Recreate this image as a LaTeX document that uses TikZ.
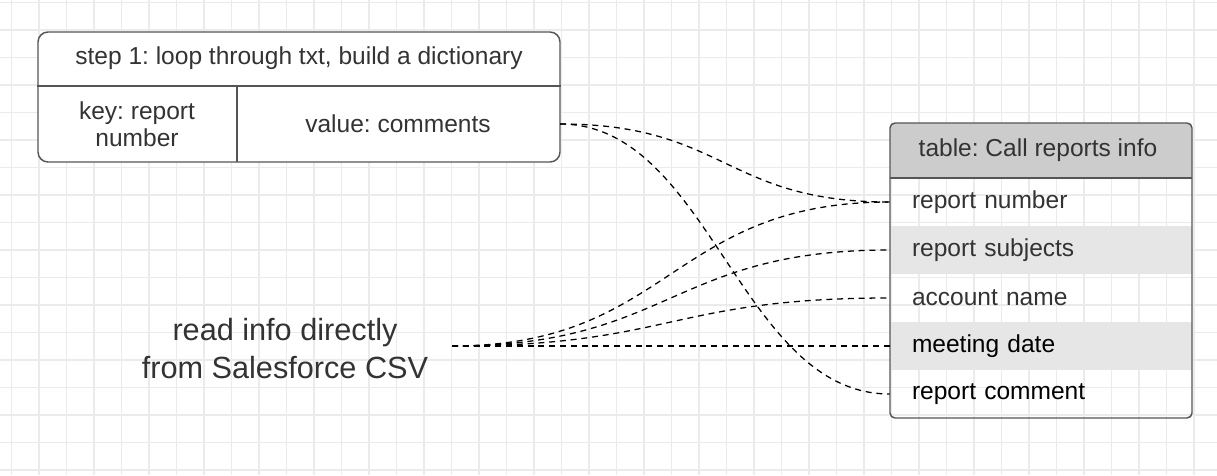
\documentclass[tikz,border=0pt]{standalone}
\usepackage{fontspec}
\setmainfont{Liberation Sans}
\frenchspacing
\definecolor{gridcol}{HTML}{EBEBEB}
\definecolor{boxcol}{HTML}{555555}
\definecolor{txtcol}{HTML}{333333}
\definecolor{hdrcol}{HTML}{CCCCCC}
\definecolor{rowcol}{HTML}{E6E6E6}
\begin{document}
\begin{tikzpicture}[x=0.75pt,y=-0.75pt,
  gridline/.style={draw=gridcol,line width=1.1pt},
  frame/.style={draw=boxcol,line width=1.1pt},
  small/.style={font=\fontsize{18.4pt}{20.5pt}\selectfont,text=txtcol,inner sep=0pt},
  big/.style={font=\fontsize{23pt}{28.5pt}\selectfont,text=txtcol,inner sep=0pt,align=center},
  rowbox/.style={minimum width=226.5pt,minimum height=36pt,text width=193.5pt,inner xsep=16.5pt,
    inner ysep=0pt,align=left,font=\fontsize{18.4pt}{20.5pt}\selectfont,text=txtcol},
  link/.style={draw=black,line width=0.95pt,dash pattern=on 4.5pt off 3.6pt}]
\useasboundingbox (0,0) rectangle (1217,475);
\fill[white] (0,0) rectangle (1217,475);
\foreach \i in {0,...,43} \draw[gridline] (11.5+27.5*\i,0) -- (11.5+27.5*\i,475);
\foreach \j in {0,...,17} \draw[gridline] (0,2.5+27.5*\j) -- (1217,2.5+27.5*\j);
\node[frame,fill=white,rounded corners=7.5pt,minimum width=391.5pt,minimum height=97.5pt] (dict) at (299,97) {};
\draw[frame] (dict.west |- 0,86) -- (dict.east |- 0,86);
\draw[frame] (237,86) -- (237,162);
\node[small] (step) at (299,58) {step 1: loop through txt, build a dictionary};
\node[small,align=center] (key) at (137,124) {key: report\\number};
\node[small] (value) at (398,124) {value: comments};
\coordinate (vout) at (560,124);
\fill[hdrcol] (890,178) [rounded corners=3.75pt] -- (890,123) -- (1192,123) [sharp corners] -- (1192,178) -- cycle;
\node[small] (table) at (1038,150) {table: Call reports info};
\node[rowbox] (r1) at (1041,202) {report number};
\node[rowbox,fill=rowcol] (r2) at (1041,250) {report subjects};
\node[rowbox] (r3) at (1041,298) {account name};
\node[rowbox,fill=rowcol,text=black] (r4) at (1041,346) {meeting date};
\node[rowbox,text=black] (r5) at (1041,394) {report comment};
\draw[frame] (890,178) -- (1192,178);
\draw[frame,rounded corners=3.75pt] (890,123) rectangle (1192,418);
\node[big] (csv) at (285,349) {read info directly\\from Salesforce CSV};
\coordinate (src) at (452,346);
\draw[link] (vout) .. controls +(165,0) and +(-165,0) .. (r1.west);
\draw[link] (vout) .. controls +(150,0) and +(-150,0) .. (r5.west);
\draw[link] (src) .. controls +(219,0) and +(-219,0) .. (r1.west);
\draw[link] (src) .. controls +(219,0) and +(-219,0) .. (r2.west);
\draw[link] (src) .. controls +(219,0) and +(-219,0) .. (r3.west);
\draw[link] (src) -- (r4.west);
\end{tikzpicture}
\end{document}
